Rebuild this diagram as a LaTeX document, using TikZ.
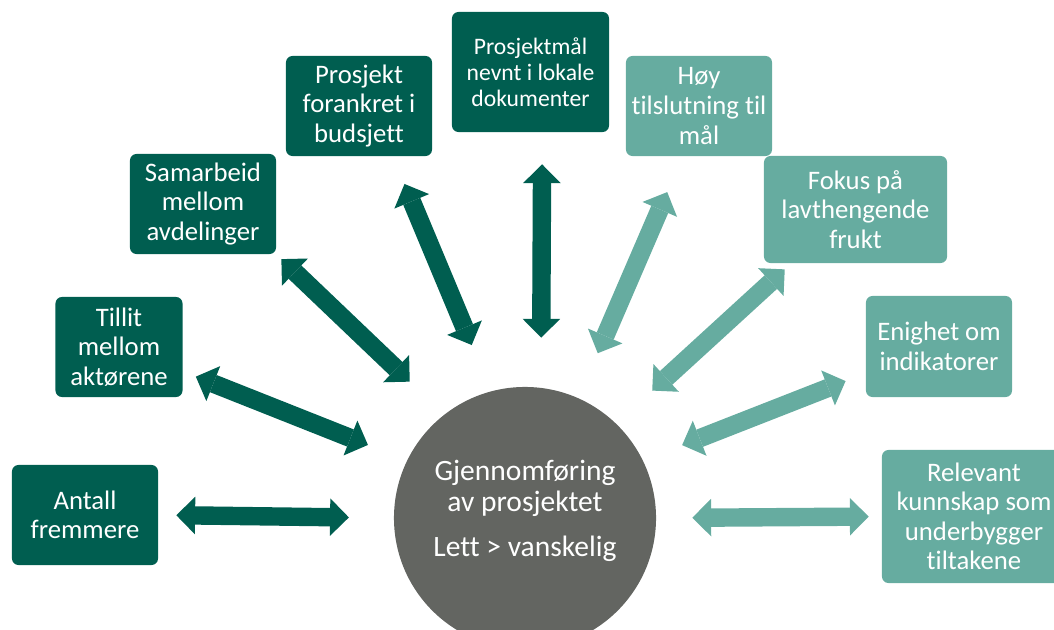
\documentclass[tikz,border=0pt]{standalone}
\usepackage{fontspec}
\setmainfont{Carlito}[Ligatures=NoCommon]
\usetikzlibrary{arrows.meta}

\definecolor{mork}{HTML}{005E50}
\definecolor{lys}{HTML}{66ACA0}
\definecolor{hubgra}{HTML}{636561}

\begin{document}
\begin{tikzpicture}[
  x=0.025cm, y=-0.025cm,
  faktor/.style={
    rectangle, rounded corners=0.16cm,
    fill=mork, text=white,
    minimum width=3.65cm, minimum height=2.5cm,
    align=center, font=\fontsize{19}{21}\selectfont
  },
  faktorlys/.style={faktor, fill=lys},
  hub/.style={
    circle, fill=hubgra,
    minimum size=6.55cm, inner sep=0pt
  },
  hubtekst/.style={
    text=white, align=center, yshift=0.18cm,
    font=\fontsize{21}{22.5}\selectfont
  },
  pil/.style={
    {Triangle[length=0.47cm, width=0.94cm, line width=0pt, sep=-0.08cm]}-{Triangle[length=0.47cm, width=0.94cm, line width=0pt, sep=-0.08cm]},
    line width=0.46cm, draw=mork
  },
  pillys/.style={pil, draw=lys}
]
  \path[use as bounding box, clip] (0,0) rectangle (1054,630);

  % midten
  \node[hub, label={[hubtekst]center:Gjennomføring\\av prosjektet\\[9.5pt]Lett > vanskelig}]
    (gj) at (525,518) {};

  % venstre side
  \node[faktor] (antall) at (85,515) {Antall\\fremmere};
  \node[faktor, minimum width=3.175cm] (tillit) at (119,347) {Tillit\\mellom\\aktørene};
  \node[faktor] (samarbeid) at (203,204) {Samarbeid\\mellom\\avdelinger};
  \node[faktor] (forankret) at (359,106) {Prosjekt\\forankret i\\budsjett};
  \node[faktor, minimum width=3.925cm, minimum height=3.0cm,
        font=\fontsize{16.8}{18.5}\selectfont] (maal) at (530.5,72)
    {Prosjektmål\\nevnt i lokale\\dokumenter};

  % hoyre side
  \node[faktorlys] (hoy) at (699,106) {Høy\\tilslutning til\\mål};
  \node[faktorlys, minimum width=4.575cm, minimum height=2.675cm] (fokus) at (855.5,209.5)
    {Fokus på\\lavthengende\\frukt};
  \node[faktorlys, minimum height=2.525cm] (enighet) at (939,346.5) {Enighet om\\indikatorer};
  \node[faktorlys, minimum width=4.6cm, minimum height=3.325cm] (relevant) at (974,516.5)
    {Relevant\\kunnskap som\\underbygger\\tiltakene};

  \draw[pil, shorten <=0.53cm, shorten >=1.2cm] (antall.east) -- (gj.west);
  \draw[pil, shorten <=0.43cm, shorten >=1.13cm] (tillit.-21) -- (gj.154);
  \draw[pil, shorten <=0.255cm, shorten >=1.27cm] (samarbeid.south east) -- (gj.128);
  \draw[pil, shorten <=0.83cm, shorten >=1.33cm] (forankret.-56) -- (gj.105);
  \draw[pil, shorten <=0.88cm, shorten >=1.33cm] (maal.-79) -- (gj.83);
  \draw[pillys, shorten <=1.055cm, shorten >=1.3cm] (hoy.-108) -- (gj.66);
  \draw[pillys, shorten <=0.305cm, shorten >=1.3cm] (fokus.-140) -- (gj.46);
  \draw[pillys, shorten <=0.62cm, shorten >=1.13cm] (enighet.-160) -- (gj.26);
  \draw[pillys, shorten <=0.405cm, shorten >=0.98cm] (relevant.west) -- (gj.east);
\end{tikzpicture}
\end{document}
